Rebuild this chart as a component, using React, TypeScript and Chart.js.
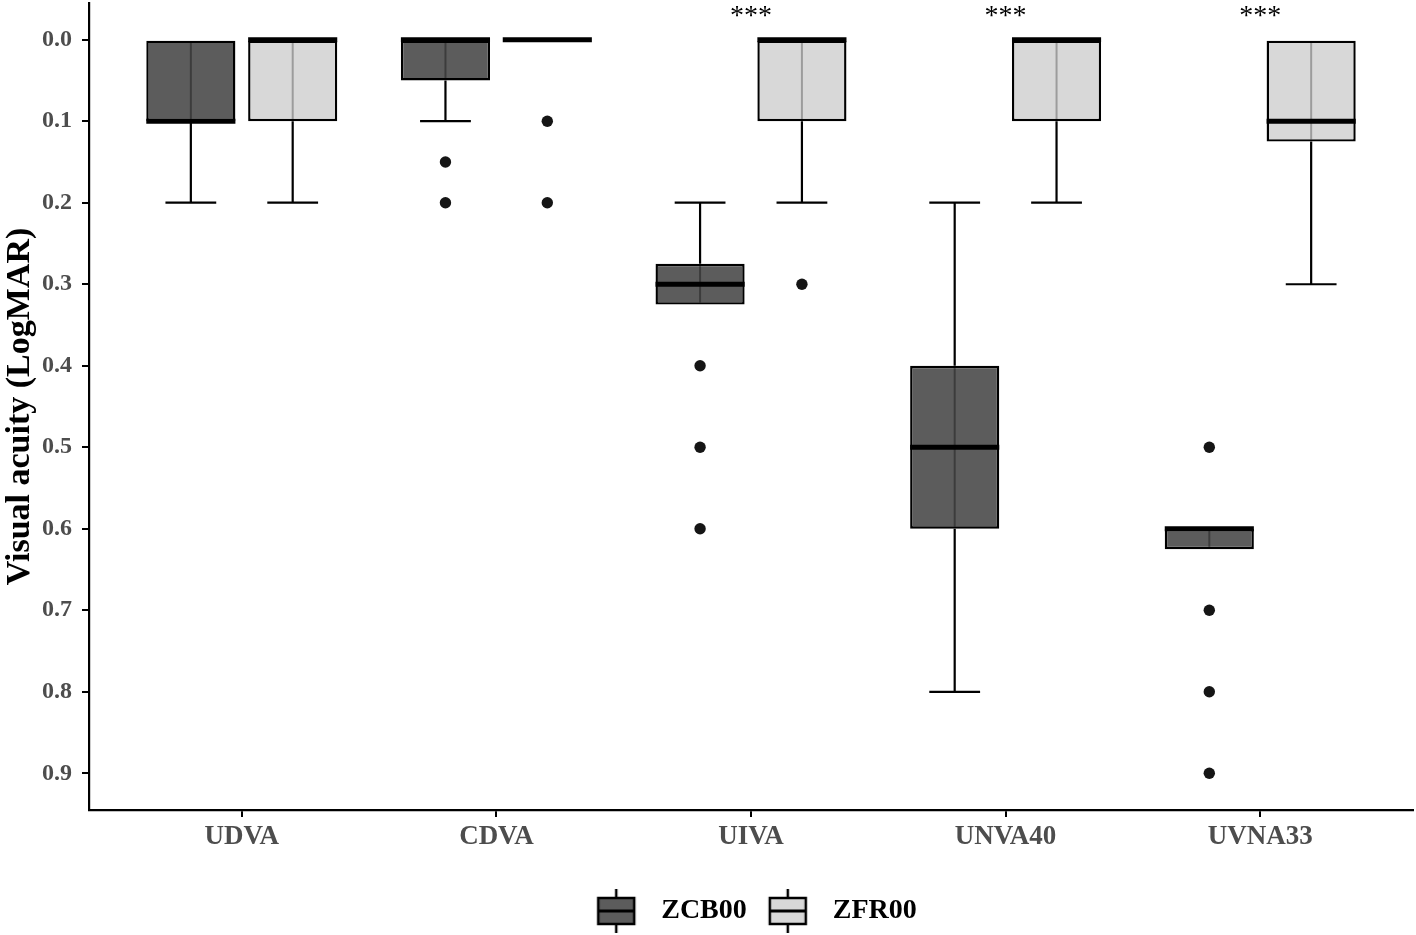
import React, { useEffect, useRef } from "react";
import { Chart, registerables } from "chart.js";

Chart.register(...registerables);

const categories = ["UDVA", "CDVA", "UIVA", "UNVA40", "UVNA33"];
const groupNames = ["ZCB00", "ZFR00"];

// ZCB00 box statistics (LogMAR)
const zcbQ1 = [0, 0, 0.275, 0.4, 0.6];
const zcbQ3 = [0.1, 0.05, 0.325, 0.6, 0.625];
const zcbMedian = [0.1, 0, 0.3, 0.5, 0.6];
const zcbWhiskerLow = [0, 0, 0.2, 0.2, 0.6];
const zcbWhiskerHigh = [0.2, 0.1, 0.325, 0.8, 0.625];
const zcbOutliers = [[], [0.15, 0.2], [0.4, 0.5, 0.6], [], [0.5, 0.7, 0.8, 0.9]];

// ZFR00 box statistics (LogMAR)
const zfrQ1 = [0, 0, 0, 0, 0];
const zfrQ3 = [0.1, 0, 0.1, 0.1, 0.125];
const zfrMedian = [0, 0, 0, 0, 0.1];
const zfrWhiskerLow = [0, 0, 0, 0, 0];
const zfrWhiskerHigh = [0.2, 0, 0.2, 0.2, 0.3];
const zfrOutliers = [[], [0.1, 0.2], [0.3], [], []];

const significance = ["", "", "***", "***", "***"];
const significanceLevel = -0.028;

const yTickValues = [0, 0.1, 0.2, 0.3, 0.4, 0.5, 0.6, 0.7, 0.8, 0.9];
const yTitle = "Visual acuity (LogMAR)";

const FONT = "'Liberation Serif', 'Times New Roman', serif";

const groups = [
  {
    label: groupNames[0],
    q1: zcbQ1,
    q3: zcbQ3,
    med: zcbMedian,
    lo: zcbWhiskerLow,
    hi: zcbWhiskerHigh,
    out: zcbOutliers,
    fill: "#5c5c5c",
    inner: "rgba(0,0,0,0.35)",
  },
  {
    label: groupNames[1],
    q1: zfrQ1,
    q3: zfrQ3,
    med: zfrMedian,
    lo: zfrWhiskerLow,
    hi: zfrWhiskerHigh,
    out: zfrOutliers,
    fill: "#d8d8d8",
    inner: "rgba(0,0,0,0.28)",
  },
];

function makeIcon(fill: string) {
  const c = document.createElement("canvas");
  c.width = 42;
  c.height = 44;
  const g = c.getContext("2d")!;
  g.strokeStyle = "#000";
  g.lineWidth = 2.5;
  g.beginPath();
  g.moveTo(21, 0);
  g.lineTo(21, 9);
  g.moveTo(21, 35);
  g.lineTo(21, 44);
  g.stroke();
  g.fillStyle = fill;
  g.fillRect(3, 9, 36, 26);
  g.strokeRect(3, 9, 36, 26);
  g.lineWidth = 3;
  g.beginPath();
  g.moveTo(3, 22);
  g.lineTo(39, 22);
  g.stroke();
  return c;
}

export default function App() {
  const ref = useRef<HTMLCanvasElement>(null);

  useEffect(() => {
    const canvas = ref.current!;
    const icons = groups.map((g) => makeIcon(g.fill));

    const boxPlugin = {
      id: "boxExtras",
      afterDatasetsDraw(chart: any) {
        const ctx = chart.ctx;
        const y = chart.scales.y;
        const x = chart.scales.x;
        ctx.save();
        groups.forEach((g, d) => {
          const meta = chart.getDatasetMeta(d);
          meta.data.forEach((el: any, i: number) => {
            const cx = el.x;
            const w = el.width;
            const left = cx - w / 2;
            const right = cx + w / 2;
            const pq1 = y.getPixelForValue(g.q1[i]);
            const pq3 = y.getPixelForValue(g.q3[i]);
            // inner line through the box
            if (Math.abs(pq3 - pq1) > 2) {
              ctx.strokeStyle = g.inner;
              ctx.lineWidth = 2;
              ctx.beginPath();
              ctx.moveTo(cx, Math.min(pq1, pq3) + 2);
              ctx.lineTo(cx, Math.max(pq1, pq3) - 2);
              ctx.stroke();
            }
            // whiskers
            ctx.strokeStyle = "#000";
            ctx.lineWidth = 2.2;
            const capHalf = w * 0.285;
            const drawWhisker = (from: number, to: number) => {
              if (Math.abs(to - from) < 1e-9) return;
              const pf = y.getPixelForValue(from);
              const pt = y.getPixelForValue(to);
              ctx.beginPath();
              ctx.moveTo(cx, pf);
              ctx.lineTo(cx, pt);
              ctx.moveTo(cx - capHalf, pt);
              ctx.lineTo(cx + capHalf, pt);
              ctx.stroke();
            };
            drawWhisker(g.q3[i], g.hi[i]);
            drawWhisker(g.q1[i], g.lo[i]);
            // median
            const pm = y.getPixelForValue(g.med[i]);
            ctx.strokeStyle = "#000";
            ctx.lineWidth = 5;
            ctx.lineCap = "butt";
            ctx.beginPath();
            ctx.moveTo(left, pm);
            ctx.lineTo(right, pm);
            ctx.stroke();
            // outliers
            ctx.fillStyle = "#151515";
            g.out[i].forEach((v: number) => {
              ctx.beginPath();
              ctx.arc(cx, y.getPixelForValue(v), 5.7, 0, Math.PI * 2);
              ctx.fill();
            });
          });
        });
        // significance marks
        ctx.fillStyle = "#000";
        ctx.font = `28px ${FONT}`;
        ctx.textAlign = "center";
        ctx.textBaseline = "middle";
        significance.forEach((s, i) => {
          if (!s) return;
          ctx.fillText(s, x.getPixelForValue(i), y.getPixelForValue(significanceLevel));
        });
        ctx.restore();
      },
    };

    const chart = new Chart(canvas, {
      type: "bar",
      data: {
        datasets: groups.map((g) => ({
          label: g.label,
          data: categories.map((_, i) => ({ x: i, y: [g.q1[i], g.q3[i]] })),
          backgroundColor: g.fill,
          borderColor: "#000",
          borderWidth: 2.4,
          borderSkipped: false,
          inflateAmount: 0,
          categoryPercentage: 0.8,
          barPercentage: 0.875,
        })) as any,
      },
      options: {
        animation: false,
        responsive: false,
        events: [],
        layout: { padding: { top: 3, right: 3, bottom: 0, left: 0 } },
        scales: {
          x: {
            type: "linear",
            min: -0.6,
            max: 4.6,
            offset: false,
            afterBuildTicks: (s: any) => {
              s.ticks = categories.map((_, i) => ({ value: i }));
            },
            afterFit: (s: any) => {
              s.height = 77;
              s.paddingLeft = 0;
              s.paddingRight = 0;
            },
            ticks: {
              autoSkip: false,
              maxRotation: 0,
              padding: 4,
              color: "#4d4d4d",
              font: { family: FONT, size: 27, weight: "bold" },
              callback: (v: any) => categories[Math.round(v)] ?? "",
            },
            grid: {
              offset: false,
              drawOnChartArea: false,
              drawTicks: true,
              tickLength: 7,
              tickWidth: 2,
              tickColor: "#000",
              color: "#000",
              lineWidth: 2,
            },
            border: { display: true, color: "#000", width: 2.2 },
          } as any,
          y: {
            type: "linear",
            reverse: true,
            min: -0.045,
            max: 0.945,
            afterBuildTicks: (s: any) => {
              s.ticks = yTickValues.map((v) => ({ value: v }));
            },
            afterFit: (s: any) => {
              s.width = 89;
              s.paddingTop = 0;
              s.paddingBottom = 0;
            },
            ticks: {
              padding: 10,
              color: "#4d4d4d",
              font: { family: FONT, size: 24, weight: "bold" },
              callback: (v: any) => Number(v).toFixed(1),
            },
            grid: {
              drawOnChartArea: false,
              drawTicks: true,
              tickLength: 7,
              tickWidth: 2,
              tickColor: "#000",
              color: "#000",
              lineWidth: 2,
            },
            border: { display: true, color: "#000", width: 2.2 },
            title: {
              display: true,
              text: yTitle,
              color: "#000",
              font: { family: FONT, size: 34, weight: "bold" },
              padding: { top: 0, bottom: 0 },
            },
          } as any,
        },
        plugins: {
          tooltip: { enabled: false },
          legend: {
            position: "bottom",
            fullSize: false,
            labels: {
              usePointStyle: true,
              pointStyleWidth: 62,
              padding: 10,
              color: "#000",
              font: { family: FONT, size: 28, weight: "bold" },
              generateLabels: () =>
                groups.map((g, i) => ({
                  text: g.label,
                  pointStyle: icons[i],
                  fillStyle: g.fill,
                  strokeStyle: "#000",
                  lineWidth: 1,
                  hidden: false,
                  datasetIndex: i,
                })) as any,
            },
          } as any,
        },
      },
      plugins: [boxPlugin],
    });

    return () => chart.destroy();
  }, []);

  return (
    <div
      style={{
        position: "fixed",
        left: 0,
        top: 0,
        width: 1416,
        height: 935,
        background: "#fff",
      }}
    >
      <canvas
        ref={ref}
        width={1416}
        height={935}
        style={{ display: "block", width: 1416, height: 935 }}
      />
    </div>
  );
}
